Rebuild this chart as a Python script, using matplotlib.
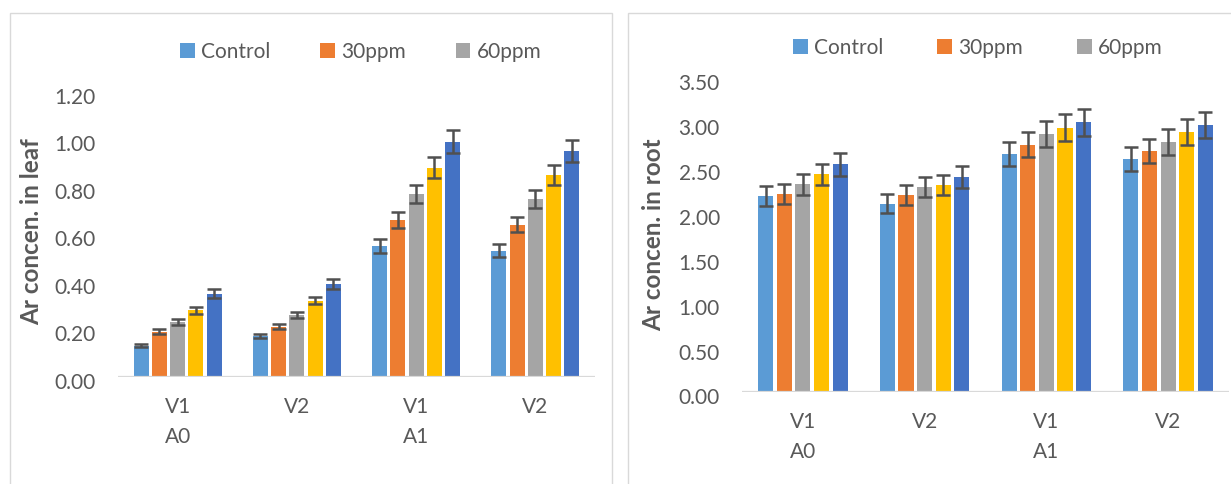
import numpy as np
import matplotlib
matplotlib.use('Agg')
import matplotlib.pyplot as plt
from matplotlib.patches import Rectangle
from matplotlib.transforms import ScaledTranslation

plt.rcParams['font.family'] = ['Lato', 'DejaVu Sans']

W, H = 1231, 484

varieties = ['V1', 'V2', 'V1', 'V2']
factor_labels = ['A0', '', 'A1', '']
legend_labels = ['Control', '30ppm', '60ppm']
colors = ['#5B9BD5', '#ED7D31', '#A5A5A5', '#FFC000', '#4472C4']

# leaf, one row per treatment
leaf_vals = [
    [0.13, 0.17, 0.55, 0.53],
    [0.19, 0.21, 0.66, 0.64],
    [0.23, 0.26, 0.77, 0.75],
    [0.28, 0.32, 0.88, 0.85],
    [0.35, 0.39, 0.99, 0.95],
]
leaf_err = [
    [0.007, 0.009, 0.028, 0.027],
    [0.010, 0.011, 0.033, 0.032],
    [0.012, 0.013, 0.039, 0.038],
    [0.014, 0.016, 0.044, 0.043],
    [0.018, 0.020, 0.050, 0.048],
]

# root
root_vals = [
    [2.19, 2.10, 2.66, 2.60],
    [2.21, 2.20, 2.76, 2.69],
    [2.32, 2.29, 2.88, 2.79],
    [2.43, 2.31, 2.95, 2.90],
    [2.54, 2.40, 3.01, 2.98],
]
root_err = [
    [0.110, 0.105, 0.133, 0.130],
    [0.110, 0.110, 0.138, 0.135],
    [0.116, 0.115, 0.144, 0.140],
    [0.120, 0.116, 0.148, 0.145],
    [0.127, 0.120, 0.150, 0.149],
]

grey = '#595959'
fig = plt.figure(figsize=(W / 100, H / 100), dpi=100)


def px_axes(x0, x1, ytop, ybot):
    return fig.add_axes([x0 / W, 1 - ybot / H, (x1 - x0) / W, (ybot - ytop) / H])


def draw_panel(ax, vals, errs, ymax, ystep, ylab, lab_xy, leg_xy, colsp):
    x = np.arange(len(varieties))
    pitch, width = 0.153, 0.125
    bars = []
    for j in range(len(vals)):
        xs = x + (j - 2) * pitch
        b = ax.bar(xs, vals[j], width, color=colors[j], zorder=2)
        bars.append(b)
        ax.errorbar(xs, vals[j], yerr=errs[j], fmt='none', ecolor='#505050',
                    elinewidth=1.8, capsize=4.7, capthick=1.8, zorder=4)
    ax.axhline(0, color='#D9D9D9', lw=1.6, zorder=3)
    ax.set_xlim(-0.5, 3.5)
    ax.set_ylim(0, ymax)
    ticks = np.arange(0, ymax + 1e-9, ystep)
    ax.set_yticks(ticks)
    ax.set_yticklabels(['%.2f' % v for v in ticks])
    ax.tick_params(axis='y', length=0, pad=16, labelsize=15, labelcolor=grey)
    off = ScaledTranslation(0, -3 / 72, fig.dpi_scale_trans)
    for lb in ax.get_yticklabels():
        lb.set_transform(lb.get_transform() + off)
    ax.set_xticks([])
    for s in ax.spines.values():
        s.set_visible(False)
    for i in range(len(varieties)):
        ax.annotate(varieties[i], xy=(i, 0), xycoords=('data', 'axes fraction'),
                    xytext=(0, -30), textcoords='offset pixels',
                    ha='center', va='center', fontsize=15, color=grey)
        if factor_labels[i]:
            ax.annotate(factor_labels[i], xy=(i, 0), xycoords=('data', 'axes fraction'),
                        xytext=(0, -60), textcoords='offset pixels',
                        ha='center', va='center', fontsize=15, color=grey)
    fig.text(lab_xy[0] / W, 1 - lab_xy[1] / H, ylab, rotation=90, ha='center',
             va='center', fontsize=17.5, fontweight='bold', color=grey)
    fig.legend(bars[:3], legend_labels, loc='center left',
               bbox_to_anchor=(leg_xy[0] / W, 1 - leg_xy[1] / H),
               bbox_transform=fig.transFigure, ncol=3, frameon=False,
               borderpad=0, borderaxespad=0, handlelength=0.7, handleheight=0.7,
               handletextpad=0.3, columnspacing=colsp, fontsize=15,
               labelcolor=grey)


# panel frames
fig.patches.append(Rectangle((10 / W, -0.05), 602 / W, 1.05 - 13 / H,
                             transform=fig.transFigure, fill=False,
                             edgecolor='#D9D9D9', lw=1))
fig.patches.append(Rectangle((628 / W, -0.05), 0.5, 1.05 - 13 / H,
                             transform=fig.transFigure, fill=False,
                             edgecolor='#D9D9D9', lw=1))

ax1 = px_axes(118, 595, 91.7, 376.7)
draw_panel(ax1, leaf_vals, leaf_err, 1.2, 0.2, 'Ar concen. in leaf',
           (32, 232), (180, 52), 2.4)

ax2 = px_axes(742, 1229, 78.3, 392.3)
draw_panel(ax2, root_vals, root_err, 3.5, 0.5, 'Ar concen. in root',
           (654, 235), (793, 48), 2.6)

fig.savefig('out.png', dpi=100)
